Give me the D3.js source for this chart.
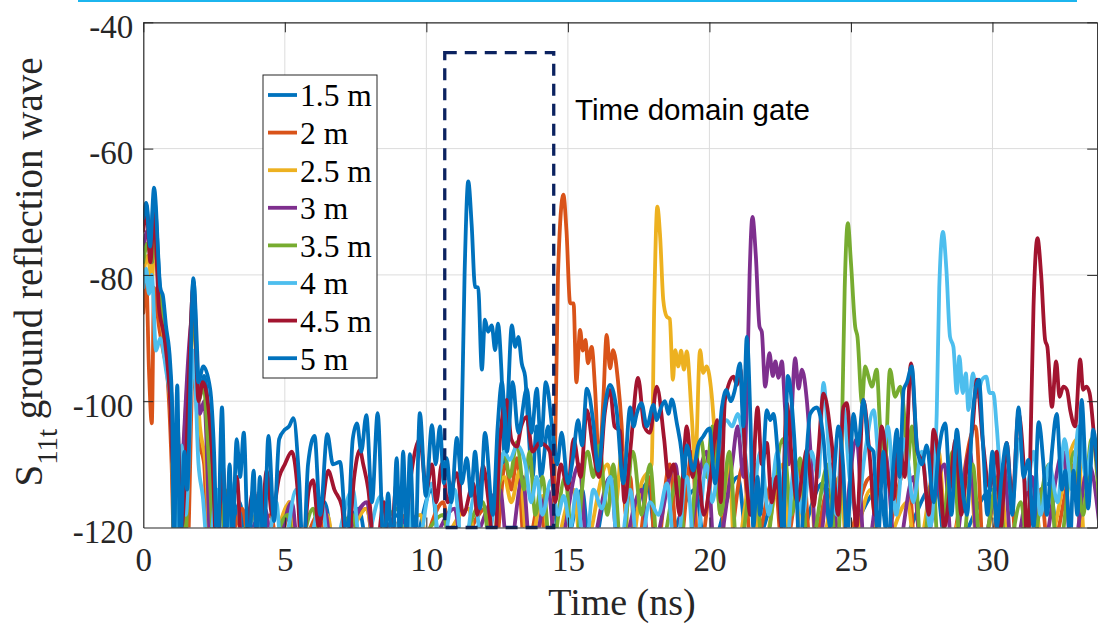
<!DOCTYPE html>
<html><head><meta charset="utf-8">
<script src="https://cdn.jsdelivr.net/npm/d3@7"></script>
<style>body{margin:0;background:#fff} svg{display:block}</style>
</head><body>
<svg id="chart" width="1098" height="623"></svg>
<script>
// ---------- data ----------
const seriesNames = ["1.5 m","2 m","2.5 m","3 m","3.5 m","4 m","4.5 m","5 m"];
const seriesColors = ["#0072BD","#D95319","#EDB120","#7E2F8E","#77AC30","#4DBEEE","#A2142F","#0072BD"];
const xTicks = [0,5,10,15,20,25,30];
const yTicks = [-120,-100,-80,-60,-40];
const xDomain = [0,33.7];
const yDomain = [-120,-40];
const gateTimes = [10.65,14.5];
const gateLevels = [-120,-44.8];
const gateLabel = "Time domain gate";
const xLabel = "Time (ns)";

const s1_5 = [[0,-72],[0.12,-69],[0.25,-76],[0.38,-68],[0.6,-83],[0.8,-89],[1.0,-100],[1.1,-125],[1.3,-112],[1.45,-125],[1.77,-81],[2.0,-99],[2.15,-96],[2.4,-110],[2.55,-125],[2.8,-114],[3.0,-125],[3.4,-116],[3.7,-125],[4.2,-117],[4.5,-125],[5.2,-118],[5.5,-125],[6.4,-116],[6.8,-125],[7.6,-117],[8.0,-125],[9.0,-118],[9.4,-125],[10.2,-114],[10.5,-125],[11.0,-125],[11.22,-110],[11.35,-80],[11.48,-65.2],[11.6,-72],[11.72,-81.9],[11.83,-82],[11.96,-95],[12.07,-87.1],[12.18,-89],[12.31,-88],[12.43,-91.9],[12.53,-87.7],[12.65,-95],[12.78,-110],[12.88,-100],[13.02,-88],[13.14,-91.4],[13.25,-89.8],[13.37,-94],[13.49,-96.1],[13.6,-104],[13.75,-112],[13.9,-104],[14.05,-112],[14.3,-104],[14.5,-115],[14.8,-125],[15.5,-114],[15.8,-125],[16.5,-112],[16.9,-125],[17.8,-113],[18.2,-125],[19.5,-114],[19.9,-125],[21.0,-112],[21.4,-125],[22.5,-114],[22.9,-125],[24.0,-113],[24.4,-125],[26.0,-114],[26.4,-125],[28.0,-113],[28.4,-125],[30.0,-114],[30.4,-125],[32.0,-113],[32.4,-125],[33.9,-125]];

const s2 = [[0,-86],[0.1,-80],[0.2,-95],[0.3,-103.5],[0.38,-82],[0.55,-88],[0.7,-92],[0.85,-96],[1.0,-110],[1.1,-125],[1.4,-114],[1.55,-125],[1.77,-93],[1.95,-106],[2.15,-110],[2.3,-125],[2.7,-116],[2.9,-125],[3.5,-117],[3.8,-125],[4.5,-118],[4.8,-125],[5.15,-116],[5.4,-125],[6.2,-118],[6.5,-125],[7.9,-117],[8.2,-125],[9.3,-118],[9.6,-125],[10.6,-116],[10.9,-125],[12.1,-117],[12.4,-125],[12.8,-110],[13.0,-114],[13.2,-109],[13.5,-125],[14.0,-116],[14.3,-125],[14.54,-110],[14.65,-80],[14.84,-67.3],[14.95,-73],[15.08,-84.5],[15.2,-84.5],[15.3,-97],[15.43,-88.7],[15.53,-92],[15.62,-90.3],[15.71,-94],[15.84,-91.4],[15.96,-98],[16.1,-110],[16.25,-100],[16.37,-89.5],[16.49,-94.8],[16.6,-91.9],[16.77,-96.8],[16.9,-104],[17.05,-118],[17.2,-112],[17.4,-125],[17.9,-112],[18.1,-125],[18.6,-110],[18.9,-125],[19.4,-108],[19.6,-125],[20.3,-106],[20.6,-125],[21.2,-110],[21.5,-125],[22.3,-112],[22.6,-125],[23.3,-110],[23.6,-125],[24.2,-114],[24.6,-125],[25.7,-112],[26.0,-125],[27.0,-110],[27.3,-125],[28.1,-112],[28.4,-125],[29.4,-104],[29.7,-125],[30.6,-112],[30.9,-125],[31.7,-114],[32.0,-125],[32.9,-110],[33.2,-125],[33.9,-125]];

const s2_5 = [[0,-80],[0.15,-77],[0.3,-81],[0.4,-75],[0.6,-86],[0.8,-93],[1.0,-105],[1.1,-125],[1.77,-88],[2.0,-104],[2.2,-110],[2.4,-125],[3.0,-117],[3.2,-125],[4.0,-118],[4.3,-125],[5.2,-116],[5.45,-125],[6.5,-118],[6.8,-125],[7.9,-117],[8.2,-125],[9.8,-118],[10.1,-125],[11.5,-117],[11.8,-125],[12.75,-112],[13.0,-116],[13.3,-111],[13.6,-125],[14.1,-115],[14.4,-125],[15.2,-114],[15.5,-125],[16.4,-110],[16.7,-116],[16.9,-108],[17.2,-125],[17.6,-113],[17.96,-110],[18.05,-85],[18.16,-69.2],[18.26,-74],[18.37,-84],[18.49,-86.6],[18.6,-87],[18.71,-96.6],[18.79,-91.9],[18.9,-94.5],[19.0,-92],[19.1,-95],[19.2,-92.1],[19.37,-102],[19.5,-110],[19.67,-91.9],[19.78,-95.5],[19.9,-94.5],[20.08,-99],[20.2,-106],[20.4,-118],[20.7,-110],[20.9,-125],[21.5,-112],[21.8,-125],[22.6,-110],[22.9,-125],[23.5,-108],[23.8,-125],[24.6,-112],[24.9,-125],[25.7,-114],[26.0,-125],[27.0,-116],[27.3,-125],[28.1,-108],[28.4,-125],[29.2,-112],[29.5,-125],[30.3,-114],[30.6,-125],[31.5,-116],[31.8,-125],[33.0,-106],[33.3,-125],[33.9,-125]];

const s3 = [[0,-76],[0.15,-73],[0.3,-78],[0.4,-71],[0.6,-85],[0.8,-92],[1.0,-104],[1.1,-125],[1.77,-86],[2.0,-102],[2.15,-100],[2.4,-125],[3.1,-116],[3.3,-125],[4.3,-117],[4.6,-125],[5.25,-116],[5.5,-125],[6.4,-117],[6.7,-125],[7.9,-116],[8.2,-125],[9.5,-118],[9.8,-125],[11.0,-117],[11.3,-125],[12.6,-114],[12.9,-125],[13.4,-112],[13.7,-125],[14.3,-114],[14.6,-125],[15.4,-110],[15.7,-125],[16.5,-112],[16.8,-125],[17.6,-114],[17.9,-125],[18.8,-110],[19.1,-125],[19.9,-108],[20.2,-125],[20.8,-110],[21.0,-104],[21.2,-112],[21.32,-100],[21.42,-80],[21.52,-70.8],[21.64,-77],[21.77,-88.2],[21.85,-89],[21.97,-97.7],[22.12,-92.4],[22.24,-96],[22.33,-93.7],[22.44,-96.3],[22.56,-93.7],[22.67,-101],[22.8,-110],[23.03,-93.2],[23.15,-98],[23.27,-95],[23.44,-99.8],[23.6,-110],[23.8,-125],[24.3,-110],[24.6,-125],[25.2,-106],[25.5,-125],[26.2,-108],[26.6,-125],[27.2,-112],[27.5,-125],[28.3,-110],[28.6,-125],[29.2,-108],[29.5,-125],[30.4,-110],[30.7,-125],[31.4,-112],[31.7,-125],[32.5,-108],[32.8,-125],[33.4,-110],[33.9,-125]];

const s3_5 = [[0,-78],[0.15,-75],[0.3,-78],[0.4,-72],[0.6,-84],[0.8,-92],[1.0,-102],[1.1,-125],[1.3,-110],[1.45,-125],[1.77,-85],[1.95,-100],[2.1,-98],[2.35,-112],[2.5,-125],[3.0,-114],[3.2,-125],[4.0,-116],[4.3,-125],[5.1,-118],[5.4,-125],[6.0,-117],[6.3,-125],[7.4,-118],[7.7,-125],[9.0,-117],[9.3,-125],[10.6,-118],[10.9,-125],[12.0,-116],[12.3,-125],[12.75,-108],[12.95,-112],[13.2,-106.5],[13.45,-114],[13.65,-108],[13.85,-118],[14.1,-112],[14.4,-125],[14.9,-112],[15.2,-125],[15.7,-108],[15.9,-112],[16.1,-107],[16.4,-118],[16.6,-110],[16.9,-125],[17.3,-108],[17.6,-118],[17.9,-110],[18.2,-125],[18.9,-112],[19.2,-125],[19.7,-106],[19.9,-112],[20.1,-104],[20.4,-118],[20.7,-108],[21.0,-125],[21.6,-110],[21.9,-125],[22.6,-106],[22.9,-118],[23.2,-109],[23.5,-125],[24.2,-110],[24.5,-125],[24.68,-105],[24.78,-82],[24.89,-71.8],[25.0,-78],[25.15,-88.2],[25.23,-89.8],[25.39,-100.3],[25.5,-94.5],[25.62,-96.1],[25.74,-97.7],[25.91,-95],[26.03,-104],[26.2,-110],[26.38,-95],[26.56,-99.3],[26.74,-97.7],[26.86,-101],[27.0,-110],[27.15,-104],[27.3,-112],[27.5,-125],[27.9,-112],[28.1,-125],[28.6,-108],[28.9,-125],[29.3,-110],[29.6,-125],[30.2,-112],[30.5,-125],[31.0,-116],[31.3,-125],[32.0,-110],[32.3,-125],[32.9,-108],[33.2,-118],[33.5,-106],[33.9,-125]];

const s4 = [[0,-82],[0.1,-79],[0.2,-83],[0.3,-80],[0.45,-92],[0.6,-90],[0.8,-95],[1.0,-102],[1.15,-125],[1.35,-107],[1.5,-118],[1.77,-92],[1.95,-110],[2.1,-115],[2.3,-125],[2.6,-114],[2.8,-125],[3.3,-112],[3.5,-125],[4.0,-115],[4.3,-125],[4.7,-116],[4.9,-125],[5.4,-114],[5.7,-125],[6.3,-116],[6.6,-125],[7.4,-114],[7.7,-125],[8.4,-115],[8.7,-125],[9.3,-114],[9.6,-125],[10.2,-113],[10.5,-125],[11.0,-114],[11.3,-125],[11.7,-115],[12.0,-125],[12.5,-114],[12.75,-108],[12.95,-109.3],[13.2,-107],[13.5,-110],[13.7,-116],[13.9,-112],[14.1,-118],[14.4,-112.5],[14.65,-118],[14.85,-115],[15.1,-120],[15.3,-114],[15.6,-125],[15.9,-114],[16.2,-117],[16.5,-112],[16.8,-125],[17.2,-114],[17.5,-125],[17.9,-116],[18.2,-118],[18.5,-113],[18.8,-125],[19.2,-112],[19.5,-125],[19.9,-110],[20.1,-116],[20.4,-106],[20.6,-103],[20.8,-104],[21.0,-102],[21.2,-106],[21.5,-116],[21.8,-108],[22.1,-118],[22.4,-108],[22.7,-125],[23.0,-110],[23.3,-118],[23.6,-108],[23.85,-112],[24.03,-97.1],[24.25,-110],[24.5,-118],[24.73,-101],[24.95,-112],[25.2,-118],[25.5,-108],[25.8,-101.4],[26.05,-112],[26.3,-104],[26.6,-118],[26.9,-106],[27.2,-116],[27.5,-108],[27.8,-120],[28.03,-102],[28.12,-82],[28.25,-73.2],[28.37,-79],[28.5,-89.8],[28.62,-91.4],[28.74,-98.7],[28.83,-92.9],[28.95,-98.7],[29.06,-95.6],[29.15,-101.4],[29.31,-95.6],[29.45,-99.3],[29.63,-96.6],[29.78,-96.1],[29.9,-98.7],[30.03,-98.7],[30.15,-104],[30.3,-112],[30.5,-108],[30.7,-116],[30.95,-106],[31.2,-114],[31.45,-108],[31.7,-118],[32.0,-110],[32.3,-116],[32.55,-106],[32.8,-114],[33.05,-104],[33.3,-112],[33.55,-106],[33.8,-114]];

const s4_5 = [[0,-73],[0.12,-70],[0.25,-78],[0.38,-70],[0.55,-85],[0.75,-90],[0.95,-100],[1.05,-110],[1.2,-103],[1.35,-120],[1.5,-110],[1.77,-82],[1.95,-100],[2.1,-97],[2.3,-101],[2.45,-110],[2.6,-125],[2.8,-110],[3.0,-125],[3.3,-112],[3.5,-125],[3.9,-114],[4.1,-125],[4.36,-111],[4.55,-118],[4.8,-112],[5.0,-110],[5.25,-108],[5.45,-114],[5.6,-125],[5.85,-114],[6.0,-112.5],[6.2,-120],[6.53,-111],[6.75,-114],[7.02,-116.7],[7.2,-125],[7.45,-112],[7.65,-107.7],[7.77,-110],[7.95,-114],[8.2,-125],[8.5,-116],[8.7,-125],[8.95,-113],[9.15,-125],[9.45,-112],[9.77,-106],[10.0,-114],[10.2,-110],[10.35,-116],[10.55,-109.9],[10.75,-116],[11.08,-111.4],[11.3,-118],[11.66,-113],[11.8,-118],[12.0,-110.2],[12.2,-116],[12.4,-125],[12.6,-106],[12.84,-99.8],[13.0,-106],[13.2,-107.2],[13.35,-104],[13.55,-102.5],[13.75,-108],[14.0,-106.6],[14.2,-107],[14.36,-108],[14.55,-116],[14.75,-110],[15.0,-114],[15.2,-106],[15.45,-112],[15.67,-101.4],[15.9,-108],[16.1,-112],[16.3,-102],[16.49,-98.2],[16.65,-104],[16.84,-104.7],[17.0,-116],[17.2,-108],[17.48,-96.3],[17.7,-104],[17.9,-105],[18.14,-97.7],[18.4,-106],[18.55,-112],[18.73,-110],[18.95,-118],[19.2,-104],[19.4,-112],[19.55,-109],[19.8,-118],[20.08,-110.5],[20.27,-103],[20.4,-116],[20.55,-99.8],[20.85,-96.1],[20.97,-97.4],[21.08,-94.7],[21.3,-112],[21.45,-118],[21.7,-101],[21.85,-110],[22.03,-106.6],[22.2,-116],[22.38,-112],[22.55,-120],[22.73,-100.3],[22.9,-108.5],[23.1,-116],[23.33,-110],[23.44,-107.7],[23.68,-116.6],[23.85,-108],[24.03,-98.8],[24.32,-106.6],[24.55,-118],[24.73,-101],[24.85,-100.3],[25.05,-112],[25.2,-120],[25.44,-99.8],[25.65,-108],[25.85,-118],[26.09,-104],[26.3,-112],[26.5,-115.5],[26.7,-106],[26.9,-112],[27.12,-94],[27.35,-108],[27.56,-110],[27.75,-118],[27.92,-104.5],[28.15,-112],[28.3,-120],[28.5,-113.7],[28.7,-106],[28.9,-118],[29.1,-110],[29.3,-104],[29.45,-96.6],[29.65,-106],[29.9,-113.7],[30.15,-108],[30.3,-120],[30.5,-106.6],[30.7,-116],[30.92,-102],[31.1,-110],[31.25,-125],[31.33,-110],[31.45,-85],[31.59,-74.2],[31.72,-80],[31.86,-90.3],[31.94,-91.4],[32.1,-100.9],[32.25,-93.7],[32.37,-99.3],[32.5,-97.7],[32.63,-98.2],[32.75,-101.5],[32.92,-104],[33.1,-93.4],[33.2,-98.2],[33.32,-97.7],[33.43,-98.7],[33.6,-106],[33.75,-112],[33.9,-118]];

const s5 = [[0,-71],[0.1,-68.6],[0.24,-75.5],[0.38,-66.2],[0.6,-82],[0.7,-83.5],[0.8,-88],[0.95,-94],[1.02,-101],[1.08,-124],[1.2,-97.5],[1.3,-124],[1.45,-108],[1.55,-114],[1.77,-80.5],[1.94,-97],[2.12,-94.5],[2.36,-98],[2.5,-108],[2.62,-125],[2.78,-101],[2.92,-124],[3.05,-110],[3.15,-122],[3.3,-106],[3.42,-112],[3.55,-105],[3.72,-125],[3.9,-111],[4.0,-124],[4.12,-112],[4.25,-125],[4.42,-105.5],[4.62,-119],[4.8,-106],[5.0,-104.5],[5.15,-104],[5.3,-102.7],[5.5,-112],[5.65,-125],[5.82,-110],[6.05,-105.5],[6.25,-118],[6.5,-105.2],[6.7,-110],[6.95,-109.6],[7.2,-122],[7.4,-106],[7.55,-103.5],[7.7,-108],[7.88,-102.2],[8.08,-116],[8.28,-101.9],[8.5,-124],[8.65,-114.6],[8.8,-125],[8.95,-109],[9.07,-122],[9.18,-108],[9.3,-122],[9.42,-108.4],[9.6,-125],[9.77,-101.9],[9.98,-115],[10.2,-103.8],[10.33,-110],[10.48,-104],[10.62,-113],[10.72,-109],[10.88,-116],[11.08,-105.8],[11.25,-113],[11.43,-109],[11.58,-115],[11.72,-108],[11.9,-117],[12.07,-105],[12.35,-118],[12.52,-104],[12.67,-97],[12.85,-108],[13.05,-97],[13.25,-105],[13.55,-98],[13.72,-105],[13.9,-98],[14.05,-107],[14.22,-97],[14.48,-105.6],[14.62,-110],[14.78,-105],[15.0,-113],[15.18,-109],[15.36,-103],[15.5,-107],[15.67,-98],[15.9,-103.5],[16.07,-111],[16.3,-101],[16.49,-97.4],[16.72,-101.4],[16.96,-113],[17.2,-101],[17.32,-104],[17.43,-102],[17.6,-100.3],[17.79,-104],[18.02,-100.6],[18.14,-103],[18.26,-101.4],[18.43,-100],[18.55,-102],[18.67,-99.7],[18.85,-103.5],[19.02,-108.2],[19.1,-112],[19.2,-107],[19.43,-111],[19.6,-107],[19.78,-105.6],[20.0,-104.3],[20.2,-113],[20.44,-101],[20.6,-98.2],[20.75,-100],[20.9,-98.2],[21.08,-94],[21.2,-104],[21.32,-89.8],[21.45,-103],[21.55,-120],[21.7,-112],[21.79,-118],[22.03,-101.4],[22.15,-103],[22.26,-102],[22.44,-110],[22.6,-121],[22.77,-96],[23.0,-106],[23.2,-124],[23.33,-116],[23.56,-102],[23.8,-101],[24.03,-106],[24.27,-120],[24.4,-112],[24.56,-104],[24.72,-110],[24.86,-122],[25.09,-102],[25.25,-107],[25.44,-99.8],[25.62,-107],[25.8,-108],[25.95,-122],[26.15,-108],[26.3,-124],[26.5,-110],[26.62,-104.5],[26.72,-112],[26.86,-98.2],[26.98,-97],[27.15,-94.5],[27.33,-107],[27.5,-110],[27.68,-107],[27.92,-116],[28.1,-108],[28.33,-103.5],[28.55,-118],[28.74,-104.5],[28.9,-112],[29.1,-118],[29.3,-102],[29.52,-96.6],[29.68,-108],[29.82,-118],[30.0,-108],[30.15,-120],[30.32,-112],[30.5,-106.6],[30.7,-118],[30.92,-101],[31.1,-112],[31.27,-109.3],[31.45,-120],[31.63,-103.3],[31.8,-110],[31.92,-118],[32.1,-108],[32.27,-102],[32.45,-114],[32.57,-111],[32.75,-122],[32.86,-111],[33.0,-118],[33.15,-99.8],[33.3,-112],[33.38,-117],[33.56,-104.5],[33.75,-112],[33.9,-118]];

const seriesData = [s1_5, s2, s2_5, s3, s3_5, s4, s4_5, s5];

// ---------- layout ----------
const plot = {left:143.3, right:1097.2, top:22.3, bottom:527.5};
const svg = d3.select("#chart");
const x = d3.scaleLinear().domain(xDomain).range([plot.left, plot.right]);
const y = d3.scaleLinear().domain(yDomain).range([plot.bottom, plot.top]);
const axisColor = "#262626";
const serif = "'Liberation Serif','Times New Roman',serif";
const fmt = d => String(d);

// cyan rule at top (slide artifact)
svg.append("line").attr("x1",78).attr("x2",1077).attr("y1",1).attr("y2",1)
  .attr("stroke","#1cb5ee").attr("stroke-width",2);

// grid
const grid = svg.append("g");
grid.selectAll(".gx").data(xTicks.filter(d=>d>0)).join("line")
  .attr("x1",d=>x(d)).attr("x2",d=>x(d)).attr("y1",plot.top).attr("y2",plot.bottom)
  .attr("stroke","#dcdcdc").attr("stroke-width",1);
grid.selectAll(".gy").data(yTicks.filter(d=>d>-120 && d<-40)).join("line")
  .attr("y1",d=>y(d)).attr("y2",d=>y(d)).attr("x1",plot.left).attr("x2",plot.right)
  .attr("stroke","#dcdcdc").attr("stroke-width",1);

// clip
svg.append("defs").append("clipPath").attr("id","clip").append("rect")
  .attr("x",plot.left).attr("y",plot.top).attr("width",plot.right-plot.left).attr("height",plot.bottom-plot.top);

const line = d3.line().x(d=>x(d[0])).y(d=>y(d[1])).curve(d3.curveMonotoneX);
const lines = svg.append("g").attr("clip-path","url(#clip)");
seriesData.forEach((s,i)=>{
  lines.append("path").attr("d",line(s)).attr("fill","none")
    .attr("stroke",seriesColors[i]).attr("stroke-width",3.8)
    .attr("stroke-linejoin","round").attr("stroke-linecap","round");
});

// gate rectangle
svg.append("rect")
  .attr("x",x(gateTimes[0])).attr("y",y(gateLevels[1]))
  .attr("width",x(gateTimes[1])-x(gateTimes[0])).attr("height",y(gateLevels[0])-y(gateLevels[1]))
  .attr("fill","none").attr("stroke","#0b2260").attr("stroke-width",3.3)
  .attr("stroke-dasharray","12,8");
svg.append("text").attr("x",575).attr("y",120).text(gateLabel)
  .attr("font-family","'Liberation Sans',Arial,sans-serif").attr("font-size",29.5).attr("fill","#000");

// axes
const xAxis = d3.axisBottom(x).tickValues(xTicks).tickSizeInner(-10).tickSizeOuter(0).tickPadding(20).tickFormat(fmt);
const gx = svg.append("g").attr("transform",`translate(0,${plot.bottom})`).call(xAxis);
const xAxisTop = d3.axisTop(x).tickValues(xTicks).tickSizeInner(-10).tickSizeOuter(0).tickFormat("");
const gxt = svg.append("g").attr("transform",`translate(0,${plot.top})`).call(xAxisTop);
const yAxis = d3.axisLeft(y).tickValues(yTicks).tickSizeInner(-10).tickSizeOuter(0).tickPadding(10).tickFormat(fmt);
const gy = svg.append("g").attr("transform",`translate(${plot.left},0)`).call(yAxis);
const yAxisR = d3.axisRight(y).tickValues(yTicks).tickSizeInner(-10).tickSizeOuter(0).tickFormat("");
const gyr = svg.append("g").attr("transform",`translate(${plot.right},0)`).call(yAxisR);
[gx,gxt,gy,gyr].forEach(g=>{
  g.select(".domain").attr("stroke",axisColor).attr("stroke-width",1.2);
  g.selectAll(".tick line").attr("stroke",axisColor).attr("stroke-width",1);
  g.selectAll("text").attr("fill",axisColor).attr("font-family",serif).attr("font-size",33);
});
gy.selectAll("text").attr("dy","0.45em");
gx.selectAll(".tick").filter(d=>d===0).select("line").remove();
gy.selectAll(".tick").filter(d=>d===-120).select("line").remove();

// axis labels
svg.append("text").attr("x",622).attr("y",615).attr("text-anchor","middle")
  .attr("font-family",serif).attr("font-size",38).attr("fill",axisColor).text(xLabel);
const yl = svg.append("text").attr("transform","translate(42,272) rotate(-90)")
  .attr("text-anchor","middle").attr("font-family",serif).attr("font-size",39).attr("fill",axisColor);
yl.append("tspan").text("S");
yl.append("tspan").attr("font-size",29).attr("dy",15).text("11t");
yl.append("tspan").attr("dy",-15).text(" ground reflection wave");

// legend
const lg = svg.append("g");
lg.append("rect").attr("x",263).attr("y",75).attr("width",114).attr("height",303)
  .attr("fill","#fff").attr("stroke",axisColor).attr("stroke-width",1);
const rows = lg.selectAll(".row").data(seriesNames).join("g")
  .attr("transform",(d,i)=>`translate(0,${95+i*37.6})`);
rows.append("line").attr("x1",268).attr("x2",297).attr("y1",0).attr("y2",0)
  .attr("stroke",(d,i)=>seriesColors[i]).attr("stroke-width",3.8);
rows.append("text").attr("x",300).attr("y",0).attr("dy","0.36em").text(d=>d)
  .attr("font-family",serif).attr("font-size",31.5).attr("fill","#000");
</script>
</body></html>
